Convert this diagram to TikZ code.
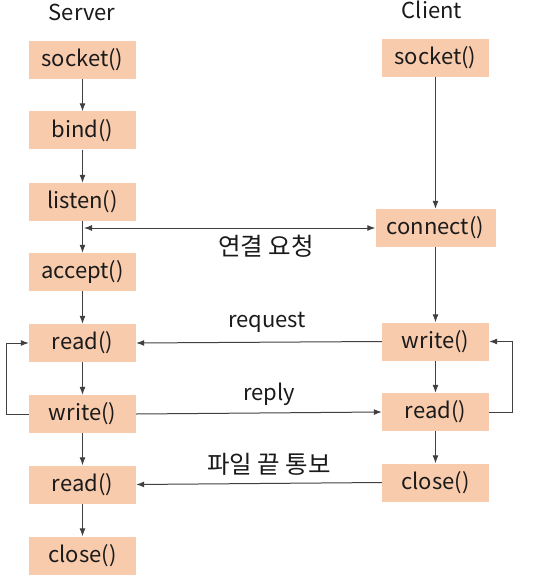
\documentclass[tikz,border=0pt]{standalone}
\usepackage{fontspec}
\setmainfont{Noto Sans CJK KR}
\usepackage{tikz}
\usetikzlibrary{positioning,calc,arrows.meta}
\definecolor{boxfill}{HTML}{F8CBAD}
\definecolor{linegray}{HTML}{404040}
\definecolor{txtdark}{HTML}{1A1A1A}

\begin{document}
\begin{tikzpicture}[
  x=1pt, y=-1pt,
  callbox/.style={fill=boxfill, minimum width=107pt, minimum height=38pt,
    inner sep=0pt, font=\fontsize{22}{26}\selectfont\color{txtdark}},
  flow/.style={draw=linegray, line width=1pt, -{Latex[length=8pt,width=6pt]}},
  twoway/.style={draw=linegray, line width=1pt, {Latex[length=8pt,width=6pt]}-{Latex[length=8pt,width=6pt]}},
  msg/.style={font=\fontsize{22}{26}\selectfont\color{txtdark}},
  kmsg/.style={font=\fontsize{24.5}{28}\selectfont\color{txtdark}},
]
\useasboundingbox (0,0) rectangle (534,580);
% headings
\node[msg] (server) at (82,12) {Server};
\node[msg] (client) at (432,10) {Client};
% server column
\foreach \name/\txt/\y in {%
  ssock/socket()/60,
  sbind/bind()/130.5,
  slisten/listen()/202,
  saccept/accept()/272,
  sread/read()/343,
  swrite/write()/414,
  sreadb/read()/484.5,
  sclose/close()/555.5%
} {
  \node[callbox] (\name) at (82.5,\y) {\txt};
}
% client column
\foreach \name/\txt/\y in {%
  csock/socket()/58,
  cwrite/write()/341.5,
  cread/read()/412,
  cclose/close()/482.5%
} {
  \node[callbox] (\name) at (435.5,\y) {\txt};
}
\node[callbox, minimum width=120pt] (cconnect) at (435.5,228) {connect()};
% vertical flow
\foreach \a/\b in {ssock/sbind, sbind/slisten, slisten/saccept, saccept/sread,
  sread/swrite, swrite/sreadb, sreadb/sclose,
  csock/cconnect, cconnect/cwrite, cwrite/cread, cread/cclose} {
  \draw[flow] (\a) -- (\b);
}
% loops
\draw[flow] (swrite.west) -- ++(-22,0) |- (sread.west);
\draw[flow] (cread.east) -- ++(23,0) |- (cwrite.east);
% messages between the two sides
\coordinate (handshake) at (slisten.south |- cconnect.west);
\draw[twoway] ([xshift=1.5pt]handshake) -- (cconnect.west);
\draw[flow] (cwrite.west) -- (sread.east);
\draw[flow] (swrite.east) -- (cread.west);
\draw[flow] (cclose.west) -- (sreadb.east);
\node[kmsg] (conreq) at (266,246) {연결 요청};
\node[msg] (reqlbl) at (267,322) {request};
\node[msg] (replbl) at (269,394) {reply};
\node[kmsg] (eoflbl) at (269,464) {파일 끝 통보};
\end{tikzpicture}
\end{document}
